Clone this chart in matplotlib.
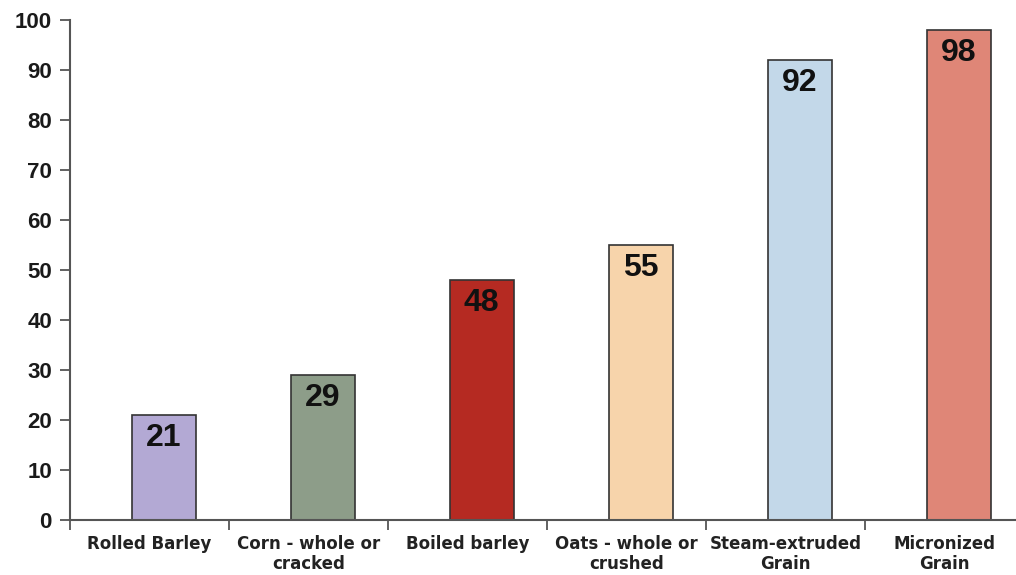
import matplotlib
matplotlib.use('Agg')
import matplotlib.pyplot as plt
import numpy as np

categories = ["Rolled Barley", "Corn - whole or\ncracked", "Boiled barley",
              "Oats - whole or\ncrushed", "Steam-extruded\nGrain", "Micronized\nGrain"]
values = [21, 29, 48, 55, 92, 98]
colors = ["#b3a9d4", "#8d9d89", "#b52a22", "#f7d4ab", "#c3d8e9", "#df8677"]
y_ticks = [0, 10, 20, 30, 40, 50, 60, 70, 80, 90, 100]

fig = plt.figure(figsize=(10.16, 5.75), dpi=100)
ax = fig.add_axes([70 / 1016, 1 - 520 / 575, 1 - 70 / 1016, 500 / 575])

# each category owns a unit slot; the bar sits a little right of the slot centre
slots = np.arange(len(categories))
bar_x = slots + 0.59
ax.bar(bar_x, values, width=0.40, color=colors, edgecolor="#333333",
       linewidth=1.2, zorder=3)

for x, v in zip(bar_x, values):
    ax.annotate(str(v), (x, v), xytext=(0, -6), textcoords="offset points",
                ha="center", va="top", fontsize=23, fontweight="bold",
                family="Liberation Sans", color="#111111", zorder=4)

ax.set_xlim(0, 1016 / 159 - 70 / 159)
ax.set_ylim(0, 100)
ax.set_yticks(y_ticks)
ax.set_yticklabels([str(t) for t in y_ticks], fontsize=16, fontweight="bold",
                   family="Liberation Sans", color="#1a1a1a")

ax.set_xticks(slots + 0.5)
ax.set_xticklabels(categories, fontsize=12, fontweight="bold",
                   family="DejaVu Sans", color="#222222", linespacing=1.15)
ax.set_xticks(np.arange(0, len(categories)), minor=True)
ax.tick_params(axis="x", which="major", length=0, pad=11)
ax.tick_params(axis="x", which="minor", length=7, width=1.3, color="#555555",
               direction="out")
ax.tick_params(axis="y", length=7, width=1.3, color="#555555", pad=6)

for side in ["top", "right"]:
    ax.spines[side].set_visible(False)
for side in ["left", "bottom"]:
    ax.spines[side].set_color("#555555")
    ax.spines[side].set_linewidth(1.5)
ax.spines["bottom"].set_zorder(5)

plt.savefig("out.png", dpi=100)
plt.close(fig)
